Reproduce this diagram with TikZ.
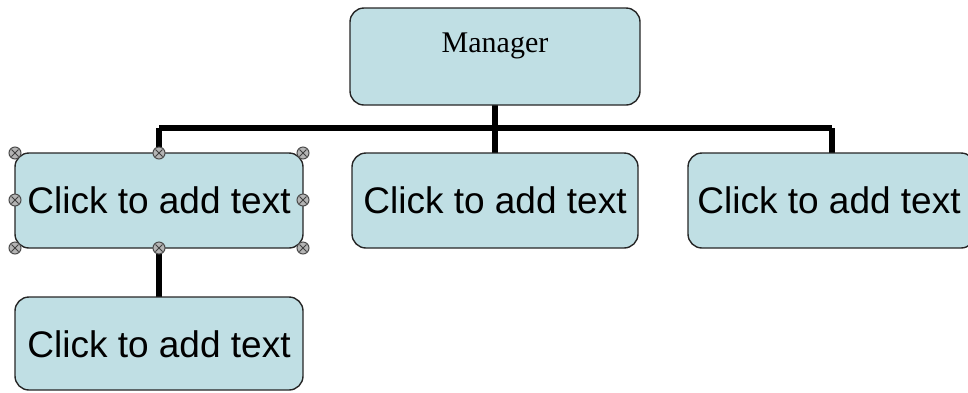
\documentclass[tikz,border=0pt]{standalone}
\usepackage{fontspec}
\setmainfont{Liberation Sans}
\newfontfamily\serifmgr{Liberation Serif}
\definecolor{boxfill}{HTML}{C0DFE4}
\definecolor{handlefill}{HTML}{B4B4B4}
\begin{document}
\begin{tikzpicture}[x=1pt,y=-1pt,
  orgbox/.style={draw=black!85, line width=1.4pt, fill=boxfill, rounded corners=14pt},
  conn/.style={line width=5.5pt, black},
  handle/.style={circle, draw=black!70, fill=handlefill, line width=1pt, minimum size=12pt, inner sep=0pt, path picture={\draw[black!75, line width=0.9pt] ([xshift=2.5pt,yshift=2.5pt]path picture bounding box.south west) -- ([xshift=-2.5pt,yshift=-2.5pt]path picture bounding box.north east) ([xshift=2.5pt,yshift=-2.5pt]path picture bounding box.north west) -- ([xshift=-2.5pt,yshift=2.5pt]path picture bounding box.south east);}},
  lbl/.style={font=\fontsize{37}{40}\selectfont, text=black}]
\useasboundingbox (0,0) rectangle (968,392);
% connectors (drawn first)
\coordinate (busL) at (159,128);
\coordinate (busR) at (832,128);
\coordinate (busM) at (495,128);
\draw[conn] (busL) -- (busR);
\draw[conn] (busL) -- (159,153);
\draw[conn] (495,105) -- (495,153);
\draw[conn] (busR) -- (832,153);
\draw[conn] (159,248) -- (159,297);
% boxes
\draw[orgbox] (350,8) rectangle (640,105);
\node (mgr) at (495,46) {\serifmgr\fontsize{30}{33}\selectfont Manager};
\draw[orgbox] (15,153) rectangle (303,248);
\node[lbl] (b1) at (159,200) {Click to add text};
\draw[orgbox] (352,153) rectangle (638,248);
\node[lbl] (b2) at (495,200) {Click to add text};
\draw[orgbox] (688,153) rectangle (975,248);
\node[lbl] (b3) at (829,200) {Click to add text};
\draw[orgbox] (15,297) rectangle (303,390);
\node[lbl] (b4) at (159,344) {Click to add text};
% selection handles
\foreach \p/\n in {{15,153}/h1,{159,153}/h2,{303,153}/h3,{15,200}/h4,{303,200}/h5,{15,248}/h6,{159,248}/h7,{303,248}/h8}
  \node[handle] (\n) at (\p) {};
\end{tikzpicture}
\end{document}
